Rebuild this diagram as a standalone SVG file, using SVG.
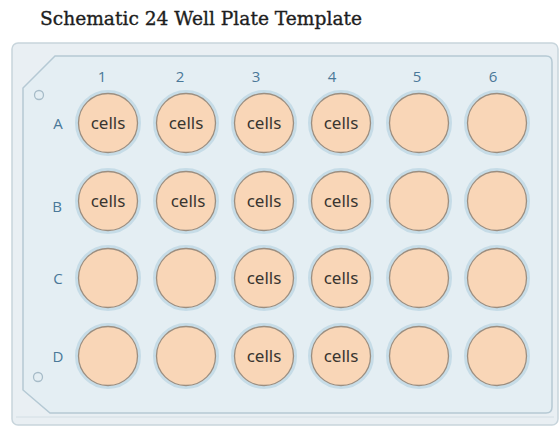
<svg xmlns="http://www.w3.org/2000/svg" width="560" height="430" viewBox="0 0 560 430">
<style>
.title{font-family:"DejaVu Serif","Liberation Serif",serif;font-size:18px;fill:#1e1e1e;stroke:#1e1e1e;stroke-width:0.35}
.lbl{font-family:"Open Sans","Liberation Sans",sans-serif;font-size:15px;fill:#4a7898;text-anchor:middle}
.halo{fill:none;stroke:#c6dce7;stroke-width:3}
.well{fill:#f9d6b7;stroke:#9b8e80;stroke-width:1.3}
.txt{font-family:"Noto Sans","Liberation Sans",sans-serif;font-size:17px;fill:#3a3530;text-anchor:middle}
.mark{fill:none;stroke:#a7bcc8;stroke-width:1.3}
</style>
<defs>
<g id="w">
<circle class="halo" r="31.5"/>
<circle class="well" r="29.5"/>
</g>
</defs>
<rect width="560" height="430" fill="#ffffff"/>
<text class="title" x="40" y="25" textLength="322" lengthAdjust="spacingAndGlyphs">Schematic 24 Well Plate Template</text>
<g id="plate">
<rect x="12" y="43" width="546" height="382" rx="6" fill="#e9eff3" stroke="#c8d5dc" stroke-width="1.5"/>
<line x1="16" y1="417" x2="554" y2="417" stroke="#d3dee4" stroke-width="1"/>
<path d="M55 56 L546 56 Q552 56 552 62 L552 407 Q552 413 546 413 L50 413 L23 390 L23 88 Z" fill="#e4eef3" stroke="#b5c9d4" stroke-width="1.5"/>
<circle class="mark" cx="39" cy="95" r="4.5"/>
<circle class="mark" cx="38" cy="377" r="4.5"/>
</g>
<g id="labels">
<text class="lbl" x="102" y="82">1</text>
<text class="lbl" x="180" y="82">2</text>
<text class="lbl" x="256" y="82">3</text>
<text class="lbl" x="332" y="82">4</text>
<text class="lbl" x="417" y="82">5</text>
<text class="lbl" x="493" y="82">6</text>
<text class="lbl" x="58" y="129">A</text>
<text class="lbl" x="57" y="212">B</text>
<text class="lbl" x="58" y="284">C</text>
<text class="lbl" x="58" y="362">D</text>
</g>
<g id="A1"><use href="#w" x="108" y="123"/><text class="txt" x="108" y="129">cells</text></g>
<g id="A2"><use href="#w" x="186" y="123"/><text class="txt" x="186" y="129">cells</text></g>
<g id="A3"><use href="#w" x="264" y="123"/><text class="txt" x="264" y="129">cells</text></g>
<g id="A4"><use href="#w" x="341" y="123"/><text class="txt" x="341" y="129">cells</text></g>
<g id="A5"><use href="#w" x="419" y="123"/></g>
<g id="A6"><use href="#w" x="497" y="123"/></g>
<g id="B1"><use href="#w" x="108" y="201"/><text class="txt" x="108" y="207">cells</text></g>
<g id="B2"><use href="#w" x="186" y="201"/><text class="txt" x="188" y="207">cells</text></g>
<g id="B3"><use href="#w" x="264" y="201"/><text class="txt" x="264" y="207">cells</text></g>
<g id="B4"><use href="#w" x="341" y="201"/><text class="txt" x="341" y="207">cells</text></g>
<g id="B5"><use href="#w" x="419" y="201"/></g>
<g id="B6"><use href="#w" x="497" y="201"/></g>
<g id="C1"><use href="#w" x="108" y="278"/></g>
<g id="C2"><use href="#w" x="186" y="278"/></g>
<g id="C3"><use href="#w" x="264" y="278"/><text class="txt" x="264" y="284">cells</text></g>
<g id="C4"><use href="#w" x="341" y="278"/><text class="txt" x="341" y="284">cells</text></g>
<g id="C5"><use href="#w" x="419" y="278"/></g>
<g id="C6"><use href="#w" x="497" y="278"/></g>
<g id="D1"><use href="#w" x="108" y="356"/></g>
<g id="D2"><use href="#w" x="186" y="356"/></g>
<g id="D3"><use href="#w" x="264" y="356"/><text class="txt" x="264" y="362">cells</text></g>
<g id="D4"><use href="#w" x="341" y="356"/><text class="txt" x="341" y="362">cells</text></g>
<g id="D5"><use href="#w" x="419" y="356"/></g>
<g id="D6"><use href="#w" x="497" y="356"/></g>
<g id="connectors"></g>
</svg>
